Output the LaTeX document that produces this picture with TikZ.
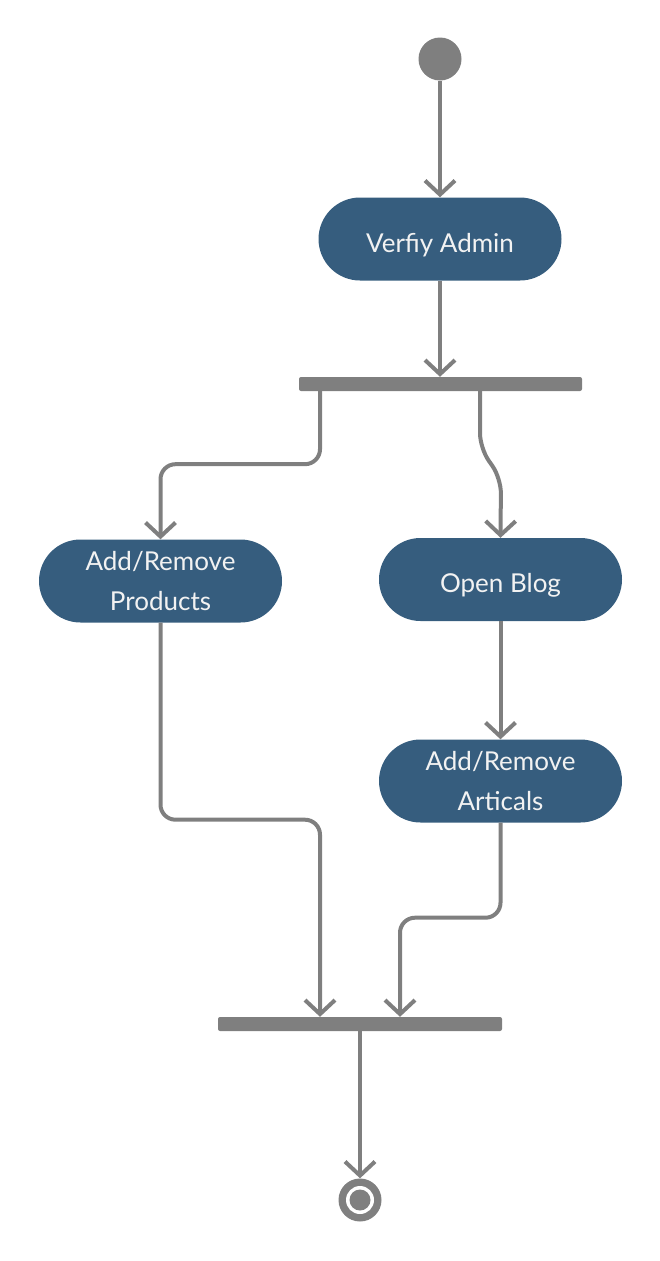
\documentclass[tikz,border=0pt]{standalone}
\usepackage{fontspec}
\setmainfont{Lato}
\usepackage{tikz}
\usetikzlibrary{arrows.meta}
\definecolor{gristrait}{RGB}{127,127,127}
\definecolor{bleuact}{RGB}{54,93,126}
\tikzset{
    punktact/.style={
           rectangle,
           rounded corners=41.5pt,
           fill=bleuact,
           text=white!95!black,
           minimum width=243pt,
           minimum height=83pt,
           align=center,
           font=\fontsize{26}{40}\selectfont},
    punktun/.style={punktact, text height=29pt, text depth=3pt},% une ligne
    barre/.style={
           rectangle,
           rounded corners=2pt,
           fill=gristrait,
           inner sep=0pt,
           minimum height=14pt},
    debut/.style={
           circle,
           fill=gristrait,
           inner sep=0pt,
           minimum size=43pt},
    fin/.style={
           circle,
           fill=gristrait,
           inner sep=0pt,
           minimum size=43pt},
    fleche/.style={
           draw=gristrait,
           line width=4pt,
           rounded corners=15pt,
           -{Straight Barb[length=14pt,width=30pt]}}
    }
\begin{document}
\begin{tikzpicture}[x=1pt,y=-1pt]
\useasboundingbox (0,0) rectangle (660,1261);
\node[debut] (init) at (440,59) {};
\node[punktun] (verif) at (440,239) {Verfiy Admin};
\node[barre, minimum width=283pt] (fork) at (440.5,384) {};
\node[punktact] (prod) at (160.5,581) {Add/Remove\\Products};
\node[punktun] (blog) at (500.5,579.5) {Open Blog};
\node[punktact] (art) at (500.5,781) {Add/Remove\\Articals};
\node[barre, minimum width=284pt] (join) at (360,1024) {};
\node[fin] (final) at (360,1200) {};
\fill[white] (final) circle (14pt);
\fill[gristrait] (final) circle (10.5pt);
% fleches
\draw[fleche] (init) -- (verif);
\draw[fleche] (verif) -- (fork.north -| verif);
\draw[fleche] ([xshift=-120.5pt]fork.south) -- ++(0,73) -| (prod.north);
\draw[fleche] ([xshift=39.5pt]fork.south) -- ++(0,57) -- ++(21,30) -- (blog.north);
\draw[fleche] (blog) -- (art);
\draw[fleche] (prod.south) -- ++(0,197) -| ([xshift=-40pt]join.north);
\draw[fleche] (art.south) -- ++(0,95) -| ([xshift=40pt]join.north);
\draw[fleche] (join.south) -- (final);
\end{tikzpicture}
\end{document}
